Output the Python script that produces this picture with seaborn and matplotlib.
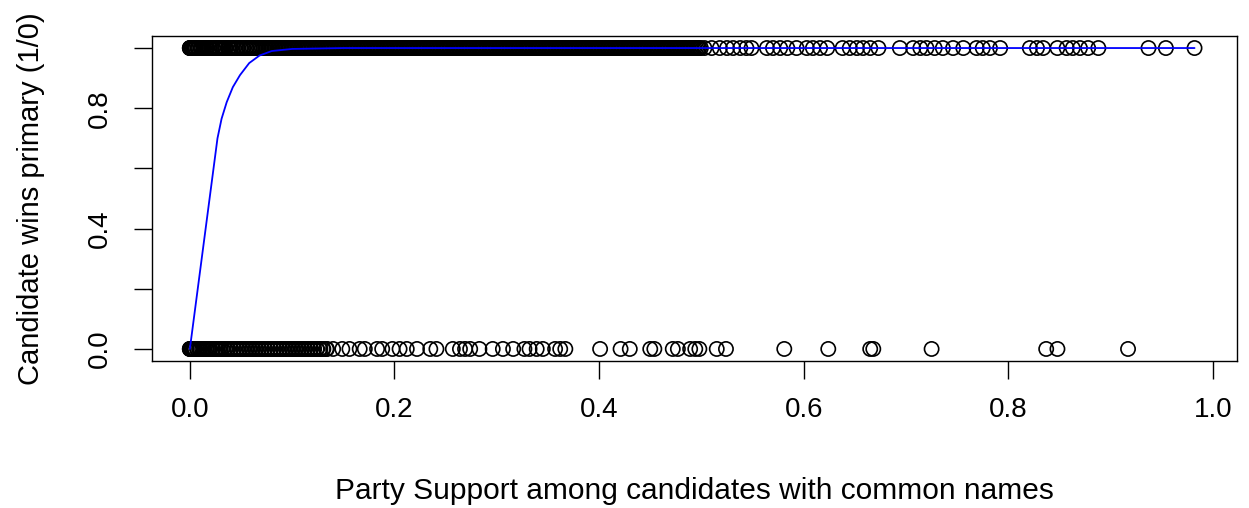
import matplotlib
matplotlib.use("Agg")
import matplotlib.pyplot as plt
import numpy as np
import pandas as pd
import seaborn as sns

# ── Data ──────────────────────────────────────────────────────────────────────
# candidates who won (y = 1): dense band up to ~0.5, then sparse
win_support = [
    0.000, 0.000, 0.000, 0.001, 0.002, 0.003, 0.004, 0.005, 0.006, 0.008,
    0.009, 0.011, 0.012, 0.014, 0.016, 0.017, 0.019, 0.021, 0.023, 0.025,
    0.027, 0.029, 0.031, 0.033, 0.035, 0.038, 0.040, 0.042, 0.045, 0.047,
    0.050, 0.052, 0.055, 0.058, 0.060, 0.063, 0.066, 0.069, 0.072, 0.075,
    0.078, 0.081, 0.084, 0.087, 0.090, 0.093, 0.096, 0.099, 0.102, 0.105,
    0.108, 0.111, 0.114, 0.117, 0.120, 0.123, 0.126, 0.129, 0.132, 0.135,
    0.138, 0.141, 0.144, 0.147, 0.150, 0.153, 0.156, 0.159, 0.162, 0.165,
    0.168, 0.171, 0.174, 0.177, 0.180, 0.183, 0.186, 0.189, 0.192, 0.195,
    0.198, 0.201, 0.204, 0.207, 0.210, 0.213, 0.216, 0.219, 0.222, 0.225,
    0.228, 0.231, 0.234, 0.237, 0.240, 0.243, 0.246, 0.249, 0.252, 0.255,
    0.258, 0.261, 0.264, 0.267, 0.270, 0.273, 0.276, 0.279, 0.282, 0.285,
    0.288, 0.291, 0.294, 0.297, 0.300, 0.303, 0.306, 0.309, 0.312, 0.315,
    0.318, 0.321, 0.324, 0.327, 0.330, 0.333, 0.336, 0.339, 0.342, 0.345,
    0.348, 0.351, 0.354, 0.357, 0.360, 0.363, 0.366, 0.369, 0.372, 0.375,
    0.378, 0.381, 0.384, 0.387, 0.390, 0.393, 0.396, 0.399, 0.402, 0.405,
    0.408, 0.411, 0.414, 0.417, 0.420, 0.423, 0.426, 0.429, 0.432, 0.435,
    0.438, 0.441, 0.444, 0.447, 0.450, 0.453, 0.456, 0.459, 0.462, 0.465,
    0.468, 0.471, 0.474, 0.477, 0.480, 0.483, 0.486, 0.489, 0.492, 0.495,
    0.498,
    0.503, 0.510, 0.518, 0.525, 0.531, 0.538, 0.544, 0.549, 0.564, 0.570,
    0.577, 0.584, 0.593, 0.603, 0.609, 0.616, 0.623, 0.638, 0.645, 0.652,
    0.658, 0.665, 0.673, 0.694, 0.707, 0.714, 0.720, 0.728, 0.736, 0.746,
    0.756, 0.769, 0.775, 0.782, 0.792, 0.821, 0.828, 0.834, 0.848, 0.857,
    0.863, 0.870, 0.878, 0.888, 0.937, 0.954, 0.982,
]
# more winners inside the solid black band (0 - 0.5)
win_support_band = [
    0.0015, 0.0046, 0.0074, 0.0104, 0.0136, 0.0165, 0.0194, 0.0226, 0.0255, 0.0284,
    0.0316, 0.0344, 0.0376, 0.0405, 0.0434, 0.0466, 0.0495, 0.0524, 0.0556, 0.0585,
    0.0614, 0.0646, 0.0675, 0.0704, 0.0736, 0.0765, 0.0794, 0.0826, 0.0855, 0.0884,
    0.0916, 0.0945, 0.0974, 0.1006, 0.1035, 0.1064, 0.1096, 0.1125, 0.1154, 0.1186,
    0.1215, 0.1244, 0.1276, 0.1305, 0.1334, 0.1366, 0.1395, 0.1424, 0.1456, 0.1485,
    0.1514, 0.1546, 0.1575, 0.1604, 0.1636, 0.1665, 0.1694, 0.1726, 0.1755, 0.1784,
    0.1816, 0.1845, 0.1874, 0.1906, 0.1935, 0.1964, 0.1996, 0.2025, 0.2054, 0.2086,
    0.2115, 0.2144, 0.2176, 0.2205, 0.2234, 0.2266, 0.2295, 0.2324, 0.2356, 0.2385,
    0.2414, 0.2446, 0.2475, 0.2504, 0.2536, 0.2565, 0.2594, 0.2626, 0.2655, 0.2684,
    0.2716, 0.2745, 0.2774, 0.2806, 0.2835, 0.2864, 0.2896, 0.2925, 0.2954, 0.2986,
    0.3015, 0.3044, 0.3076, 0.3105, 0.3134, 0.3166, 0.3195, 0.3224, 0.3256, 0.3285,
    0.3314, 0.3346, 0.3375, 0.3404, 0.3436, 0.3465, 0.3494, 0.3526, 0.3555, 0.3584,
    0.3616, 0.3645, 0.3674, 0.3706, 0.3735, 0.3764, 0.3796, 0.3825, 0.3854, 0.3886,
    0.3915, 0.3944, 0.3976, 0.4005, 0.4034, 0.4066, 0.4095, 0.4124, 0.4156, 0.4185,
    0.4214, 0.4246, 0.4275, 0.4304, 0.4336, 0.4365, 0.4394, 0.4426, 0.4455, 0.4484,
    0.4516, 0.4545, 0.4574, 0.4606, 0.4635, 0.4664, 0.4696, 0.4725, 0.4754, 0.4786,
    0.4815, 0.4844, 0.4876, 0.4905, 0.4934, 0.4966, 0.4995,
]

# candidates who lost (y = 0): dense band up to ~0.135, then sparse
loss_support = [
    0.000, 0.000, 0.000, 0.001, 0.002, 0.003, 0.004, 0.005, 0.007, 0.009,
    0.010, 0.012, 0.014, 0.016, 0.018, 0.020, 0.022, 0.025, 0.027, 0.030,
    0.032, 0.035, 0.037, 0.040, 0.043, 0.046, 0.049, 0.052, 0.055, 0.058,
    0.061, 0.064, 0.067, 0.070, 0.073, 0.076, 0.079, 0.082, 0.085, 0.088,
    0.091, 0.094, 0.097, 0.100, 0.103, 0.106, 0.109, 0.112, 0.115, 0.118,
    0.121, 0.124, 0.127, 0.130, 0.134,
    0.140, 0.149, 0.156, 0.166, 0.171, 0.183, 0.188, 0.198, 0.205, 0.212,
    0.222, 0.235, 0.241, 0.257, 0.264, 0.269, 0.274, 0.283, 0.296, 0.306,
    0.316, 0.327, 0.332, 0.339, 0.345, 0.357, 0.362, 0.367, 0.401, 0.421,
    0.430, 0.450, 0.454, 0.472, 0.477, 0.489, 0.494, 0.498, 0.515, 0.524,
    0.581, 0.624, 0.665, 0.668, 0.725, 0.837, 0.848, 0.917,
]
# more losers inside the solid black band (0 - 0.135)
loss_support_band = [
    0.0015, 0.0046, 0.0074, 0.0104, 0.0136, 0.0165, 0.0194, 0.0226, 0.0255, 0.0284,
    0.0316, 0.0344, 0.0376, 0.0405, 0.0434, 0.0466, 0.0495, 0.0524, 0.0556, 0.0585,
    0.0614, 0.0646, 0.0675, 0.0704, 0.0736, 0.0765, 0.0794, 0.0826, 0.0855, 0.0884,
    0.0916, 0.0945, 0.0974, 0.1006, 0.1035, 0.1064, 0.1096, 0.1125, 0.1154, 0.1186,
    0.1215, 0.1244, 0.1276, 0.1305, 0.1334,
]

# fitted probability curve (blue line)
fit_x = [0.000, 0.027, 0.031, 0.036, 0.042, 0.049, 0.058, 0.068, 0.080,
         0.100, 0.150, 0.982]
fit_y = [0.000, 0.700, 0.765, 0.820, 0.870, 0.910, 0.950, 0.975, 0.990,
         0.997, 1.000, 1.000]

X_TICKS = [0.0, 0.2, 0.4, 0.6, 0.8, 1.0]
Y_TICKS = [0.0, 0.2, 0.4, 0.6, 0.8, 1.0]
Y_TICKLABELS = ["0.0", "", "0.4", "", "0.8", ""]

winners = win_support + win_support_band
losers = loss_support + loss_support_band
df = pd.DataFrame({
    "support": winners + losers,
    "wins": [1] * len(winners) + [0] * len(losers),
})
fit = pd.DataFrame({"support": fit_x, "p": fit_y})

# ── Plot ──────────────────────────────────────────────────────────────────────
sns.set_style("white")
plt.rcParams["font.family"] = ["Liberation Sans", "DejaVu Sans"]
plt.rcParams.update({
    "text.color": "black",
    "axes.labelcolor": "black",
    "xtick.color": "black",
    "ytick.color": "black",
})

fig = plt.figure(figsize=(12.49, 5.08), dpi=100)
ax = fig.add_axes([152 / 1249, 1 - 361 / 508, (1237 - 152) / 1249, (361 - 36) / 508])

sns.scatterplot(data=df, x="support", y="wins", ax=ax, marker="o", s=105,
                facecolor="none", edgecolor="black", linewidth=1.2)
sns.lineplot(data=fit, x="support", y="p", ax=ax, sort=False,
             color="#0000ff", linewidth=1.3)

ax.set_xlim(-0.037, 1.0235)
ax.set_ylim(-0.04, 1.04)
ax.set_xticks(X_TICKS)
ax.set_xticklabels([f"{t:.1f}" for t in X_TICKS])
ax.set_yticks(Y_TICKS)
ax.set_yticklabels(Y_TICKLABELS, rotation=90, va="center")

ax.tick_params(axis="both", direction="out", length=13, width=1.0,
               color="black", labelsize=20, bottom=True, left=True)
ax.tick_params(axis="x", pad=13)
ax.tick_params(axis="y", pad=15)
for s in ax.spines.values():
    s.set_color("black")
    s.set_linewidth(1.0)

ax.set_xlabel("Party Support among candidates with common names",
              fontsize=21.5, labelpad=39)
ax.set_ylabel("Candidate wins primary (1/0)", fontsize=21, labelpad=30)

fig.savefig("out.png", dpi=100)
